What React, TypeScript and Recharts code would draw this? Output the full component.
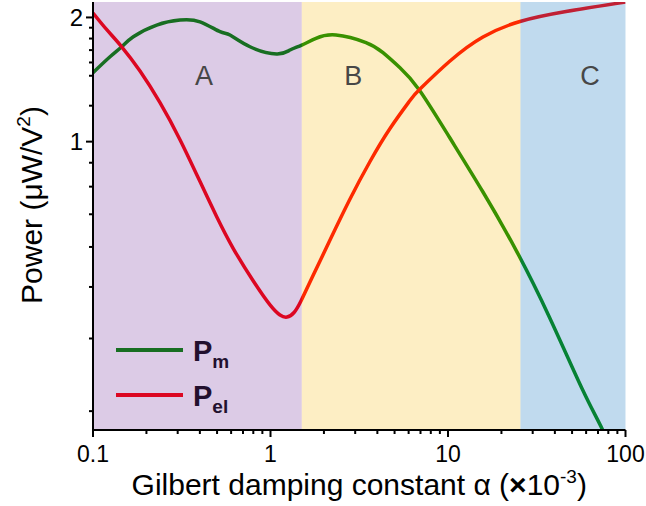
import React from 'react';
import { LineChart, Line, XAxis, YAxis, ReferenceArea, ReferenceDot, Legend } from 'recharts';

// Pm (green) curve
const pmX = [0.1, 0.1247, 0.1451, 0.1687, 0.2285, 0.3091, 0.4008, 0.5193, 0.5913, 0.7664, 1.083, 1.288, 1.499, 1.804, 2.339, 3.451, 4.303, 5.364, 6.892, 10.17, 15.68, 24.16, 37.22, 57.41, 74.37, 100];
const pmY = [1.469, 1.606, 1.698, 1.796, 1.917, 1.971, 1.952, 1.847, 1.813, 1.698, 1.631, 1.667, 1.714, 1.78, 1.813, 1.738, 1.643, 1.51, 1.334, 1.026, 0.757, 0.546, 0.376, 0.25, 0.2, 0.151];

// Pel (red) curve
const pelX = [0.1, 0.1199, 0.1451, 0.184, 0.2385, 0.3091, 0.4008, 0.4977, 0.6171, 0.8, 0.9936, 1.131, 1.239, 1.357, 1.485, 1.669, 1.901, 2.164, 2.805, 3.636, 4.713, 6.108, 6.955, 10.26, 15.74, 25.44, 46.22, 100];
const pelY = [2.05, 1.865, 1.698, 1.483, 1.243, 1.011, 0.8, 0.6576, 0.5507, 0.4594, 0.402, 0.38, 0.3756, 0.3853, 0.4109, 0.457, 0.5137, 0.5775, 0.726, 0.895, 1.076, 1.258, 1.341, 1.568, 1.793, 1.955, 2.067, 2.179];

const xMajorTicks = [0.1, 1, 10, 100];
const xMajorLabels = ['0.1', '1', '10', '100'];
const xMinorTicks = [0.2, 0.3, 0.4, 0.5, 0.6, 0.7, 0.8, 0.9, 2, 3, 4, 5, 6, 7, 8, 9, 20, 30, 40, 50, 60, 70, 80, 90];
const yMajorTicks = [1, 2];
const yMajorLabels = ['1', '2'];
const yMinorTicks = [0.2222, 0.3333, 0.4444, 0.5556, 0.6667, 0.7778, 0.8889, 1.2222, 1.4444, 1.5556, 1.6667, 1.7778, 1.8889];

const regionNames = ['A', 'B', 'C'];
const regionStart = [0.1, 1.5, 25.6];
const regionEnd = [1.5, 25.6, 100];
const regionColors = ['rgb(103,29,146)', 'rgb(246,181,0)', 'rgb(22,118,192)'];
const regionOpacity = [0.23, 0.23, 0.27];
const regionLabelX = [0.422, 2.93, 63.1];
const regionLabelY = [1.45, 1.45, 1.45];

const seriesNames = ['P', 'P'];
const seriesSubs = ['m', 'el'];

const pmData = pmX.map((x, i) => ({ x, y: pmY[i] }));
const pelData = pelX.map((x, i) => ({ x, y: pelY[i] }));

const FONT = '"Liberation Sans", Arial, sans-serif';

const XTick = (props: any) => {
  const { x, y, payload } = props;
  const idx = xMajorTicks.indexOf(payload.value);
  const major = idx >= 0;
  return (
    <g>
      <line x1={x} x2={x} y1={y} y2={y + (major ? 7 : 4)} stroke="#000" strokeWidth={2} />
      {major && (
        <text x={x} y={y + 32} textAnchor="middle" fontSize={23} fontFamily={FONT} fill="#000">
          {xMajorLabels[idx]}
        </text>
      )}
    </g>
  );
};

const YTick = (props: any) => {
  const { x, y, payload } = props;
  const idx = yMajorTicks.indexOf(payload.value);
  const major = idx >= 0;
  return (
    <g>
      <line x1={x} x2={x - (major ? 7 : 4)} y1={y} y2={y} stroke="#000" strokeWidth={2} />
      {major && (
        <text x={x - 10} y={y + 8.5} textAnchor="end" fontSize={24} fontFamily={FONT} fill="#000">
          {yMajorLabels[idx]}
        </text>
      )}
    </g>
  );
};

const XTitle = (props: any) => {
  const vb = props.viewBox || { x: 0, y: 0, width: 0, height: 0 };
  return (
    <text x={vb.x + vb.width / 2} y={vb.y + 65} textAnchor="middle" fontSize={30} fontFamily={FONT} fill="#000">
      Gilbert damping constant α (<tspan fontWeight="bold">×</tspan>10
      <tspan fontSize={19} dy={-12}>-3</tspan>
      <tspan dy={12}>)</tspan>
    </text>
  );
};

const YTitle = (props: any) => {
  const vb = props.viewBox || { x: 0, y: 0, width: 0, height: 0 };
  const cx = vb.x + 42;
  const cy = vb.y + vb.height / 2 - 11;
  return (
    <text x={cx} y={cy} transform={`rotate(-90, ${cx}, ${cy})`} textAnchor="middle" fontSize={30} fontFamily={FONT} fill="#000">
      Power (μW/V<tspan fontSize={19} dy={-12}>2</tspan>
      <tspan dy={12}>)</tspan>
    </text>
  );
};

const legendColors = ['rgb(24,110,34)', 'rgb(220,7,34)'];

const LegendContent = () => (
  <svg width={150} height={100} style={{ overflow: 'visible' }}>
    {seriesNames.map((n, i) => (
      <g key={i}>
        <line x1={0} x2={67} y1={30 + i * 45} y2={30 + i * 45} stroke={legendColors[i]} strokeWidth={4} />
        <text x={77} y={40.5 + i * 45} fontSize={29} fontWeight="bold" fontFamily={FONT} fill="rgb(34,16,46)">
          {n}
          <tspan fontSize={19} dy={7.5}>{seriesSubs[i]}</tspan>
        </text>
      </g>
    ))}
  </svg>
);

export default function App() {
  return (
    <div style={{ position: 'absolute', left: 0, top: 0, width: 646, height: 506, background: '#fff' }}>
      <LineChart width={646} height={506} margin={{ top: 2, right: 20.5, left: 0, bottom: 0 }}>
        <XAxis
          dataKey="x"
          type="number"
          scale="log"
          domain={[0.1, 100]}
          allowDataOverflow
          ticks={[...xMajorTicks, ...xMinorTicks]}
          interval={0}
          tick={<XTick />}
          tickLine={false}
          tickSize={0}
          tickMargin={0}
          height={76}
          axisLine={{ stroke: '#000', strokeWidth: 2 }}
          label={<XTitle />}
        />
        <XAxis
          xAxisId="top"
          orientation="top"
          dataKey="x"
          type="number"
          scale="log"
          domain={[0.1, 100]}
          allowDataOverflow
          tick={false}
          tickLine={false}
          height={0}
          axisLine={{ stroke: '#000', strokeWidth: 2 }}
        />
        <YAxis
          type="number"
          scale="log"
          domain={[0.2, 2.18]}
          allowDataOverflow
          ticks={[...yMajorTicks, ...yMinorTicks]}
          interval={0}
          tick={<YTick />}
          tickLine={false}
          tickSize={0}
          tickMargin={0}
          width={93}
          axisLine={{ stroke: '#000', strokeWidth: 2 }}
          label={<YTitle />}
        />
        <YAxis
          yAxisId="right"
          orientation="right"
          type="number"
          scale="log"
          domain={[0.2, 2.18]}
          allowDataOverflow
          tick={false}
          tickLine={false}
          width={0}
          axisLine={{ stroke: '#000', strokeWidth: 2 }}
        />
        <Line data={pmData} dataKey="y" name="Pm" type="natural" stroke="rgb(0,135,0)" strokeWidth={3.5} dot={false} isAnimationActive={false} />
        <Line data={pelData} dataKey="y" name="Pel" type="natural" stroke="rgb(255,0,0)" strokeWidth={3.5} dot={false} isAnimationActive={false} />
        {regionNames.map((r, i) => (
          <ReferenceArea
            key={r}
            x1={regionStart[i]}
            x2={regionEnd[i]}
            fill={regionColors[i]}
            fillOpacity={regionOpacity[i]}
            stroke="none"
            ifOverflow="visible"
            zIndex={450}
          />
        ))}
        {regionNames.map((r, i) => (
          <ReferenceDot
            key={'l' + r}
            x={regionLabelX[i]}
            y={regionLabelY[i]}
            r={0}
            fill="none"
            stroke="none"
            label={{ value: r, position: 'center', fontSize: 27, fill: '#474747', fontFamily: FONT }}
            zIndex={2000}
          />
        ))}
        <Legend
          layout="vertical"
          align="center"
          verticalAlign="middle"
          content={<LegendContent />}
          wrapperStyle={{ left: 116, top: 320, width: 150, height: 100 }}
        />
      </LineChart>
    </div>
  );
}
